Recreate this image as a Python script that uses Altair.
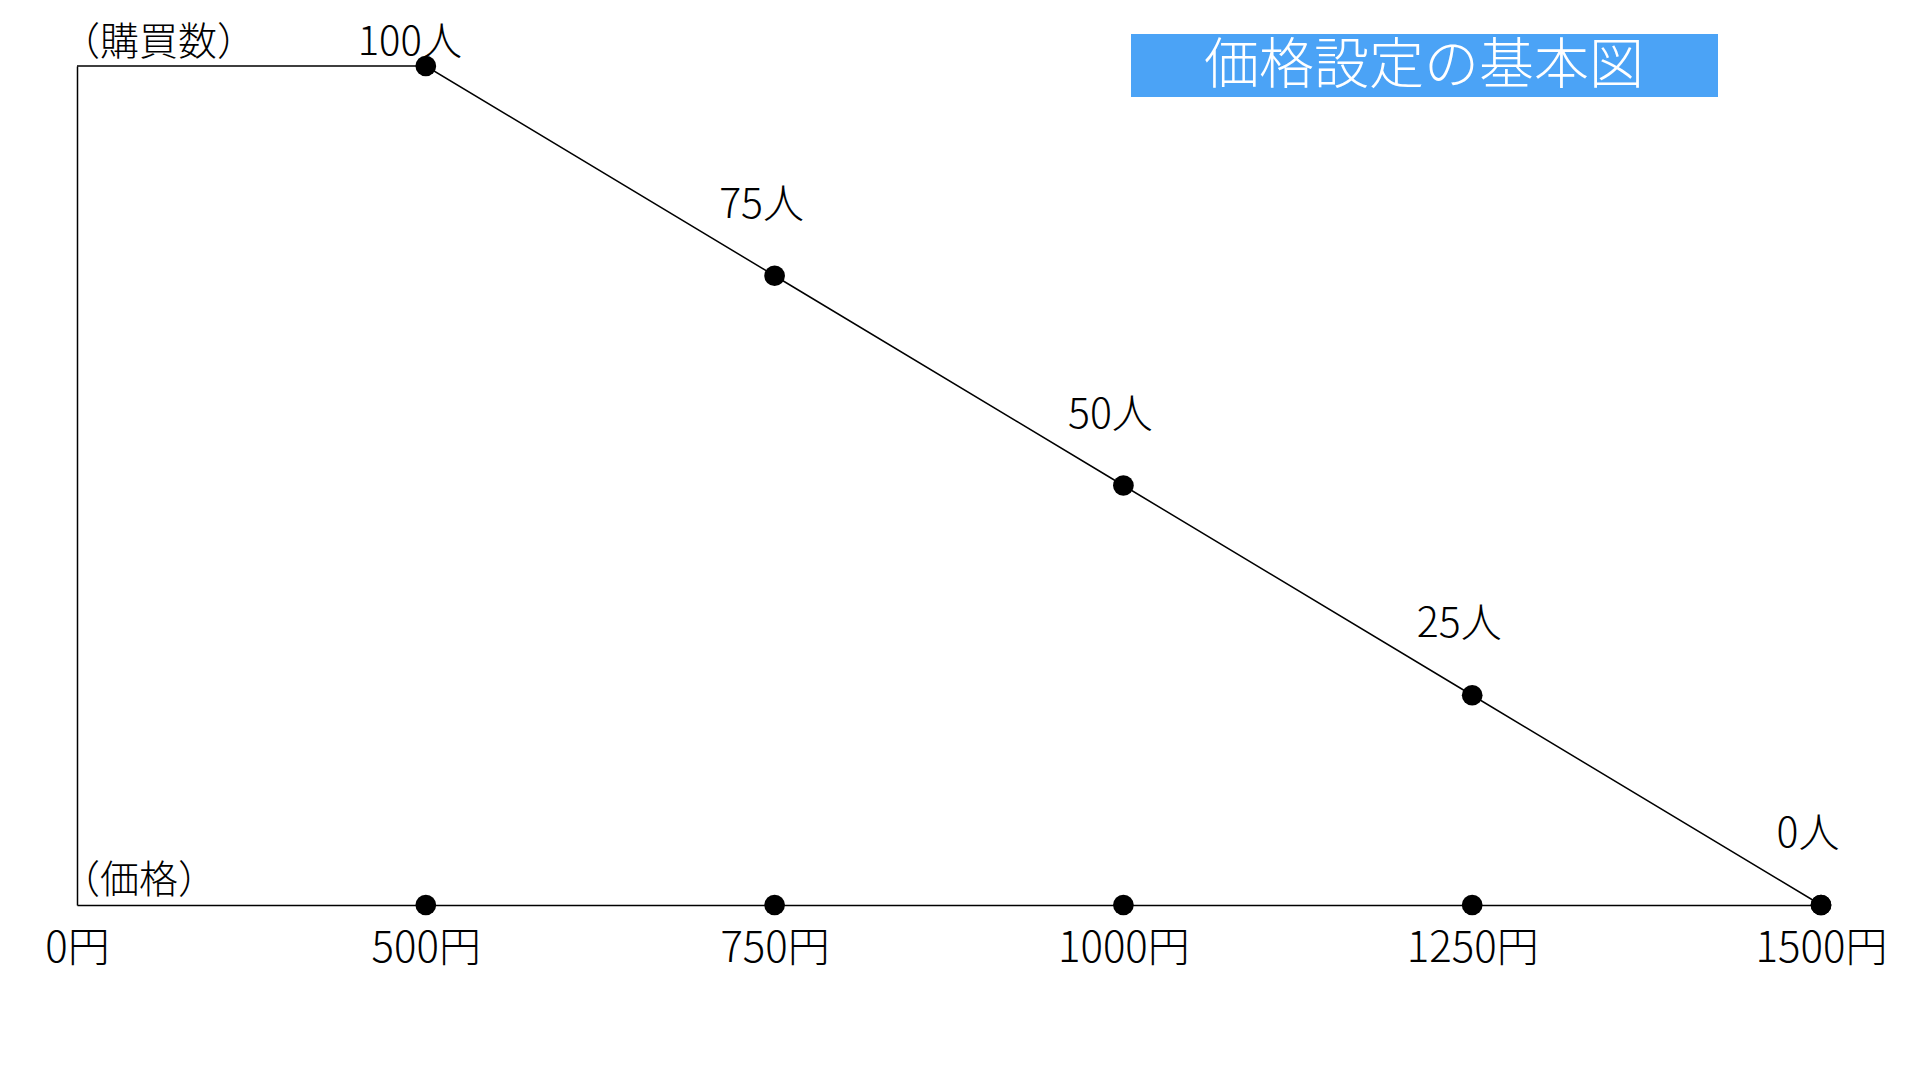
import altair as alt
import pandas as pd

FONT = "Noto Sans CJK JP"
FW = 300

# ---- data ----
prices = ["0円", "500円", "750円", "1000円", "1250円", "1500円"]
buyers = [100, 100, 75, 50, 25, 0]
point_labels = ["", "100人", "75人", "50人", "25人", "0人"]
has_dot = [False, True, True, True, True, True]
y_caption = "（購買数）"
x_caption = "（価格）"
title_text = "価格設定の基本図"

df = pd.DataFrame({
    "price": prices,
    "buyers": buyers,
    "label": point_labels,
    "dot": has_dot,
    "order": list(range(len(prices))),
})

x = alt.X(
    "price:N", sort=prices,
    scale=alt.Scale(type="point", padding=0),
    axis=alt.Axis(title=None, domainColor="black", domainWidth=1.5, ticks=False,
                  labelAngle=0, labelFontSize=42, labelColor="black",
                  labelFontWeight=FW, labelPadding=23, labelFont=FONT, grid=False),
)
y = alt.Y(
    "buyers:Q",
    scale=alt.Scale(domain=[0, 100], nice=False, zero=True),
    axis=alt.Axis(title=None, domainColor="black", domainWidth=1.5, ticks=False,
                  labels=False, grid=False),
)

base = alt.Chart(df)

line = base.mark_line(color="black", strokeWidth=1.5).encode(x=x, y=y, order="order:Q")

dots = base.transform_filter("datum.dot").mark_circle(
    color="black", size=430, opacity=1
).encode(x=x, y=y)

axis_dots = base.transform_filter("datum.dot").mark_circle(
    color="black", size=430, opacity=1
).encode(x=x, y=alt.datum(0))

top_label = base.transform_filter("datum.dot && datum.buyers == 100").mark_text(
    font=FONT, fontSize=40, fontWeight=FW, color="black", dx=-16, dy=-23, baseline="middle"
).encode(x=x, y=y, text="label:N")

other_labels = base.transform_filter("datum.dot && datum.buyers < 100").mark_text(
    font=FONT, fontSize=41, fontWeight=FW, color="black", dx=-13, dy=-70, baseline="middle"
).encode(x=x, y=y, text="label:N")

cap_df = pd.DataFrame({"price": [prices[0]], "top": [100], "bottom": [0],
                       "ycap": [y_caption], "xcap": [x_caption]})
ycap = alt.Chart(cap_df).mark_text(
    font=FONT, fontSize=39, fontWeight=FW, color="black", align="left",
    baseline="middle", dx=-16, dy=-23
).encode(x=x, y=alt.Y("top:Q"), text="ycap:N")
xcap = alt.Chart(cap_df).mark_text(
    font=FONT, fontSize=39, fontWeight=FW, color="black", align="left",
    baseline="middle", dx=-16, dy=-24
).encode(x=x, y=alt.Y("bottom:Q"), text="xcap:N")

title_df = pd.DataFrame({"t": [title_text]})
title_box = alt.Chart(title_df).mark_rect(color="#4ba3f6").encode(
    x=alt.value(1054), x2=alt.value(1641), y=alt.value(-32), y2=alt.value(31)
)
title_txt = alt.Chart(title_df).mark_text(
    font=FONT, fontSize=55, fontWeight=FW, color="white", align="center", baseline="middle"
).encode(x=alt.value(1347), y=alt.value(0), text="t:N")

chart = alt.layer(
    line, dots, axis_dots, top_label, other_labels, ycap, xcap, title_box, title_txt
).properties(
    width=1744, height=839,
    padding={"left": 69, "top": 58, "right": 90, "bottom": 120},
    autosize=alt.AutoSizeParams(type="none"),
    background="white",
).configure_view(stroke=None)

chart.save("out.html", embed_options={"renderer": "svg", "actions": False})
